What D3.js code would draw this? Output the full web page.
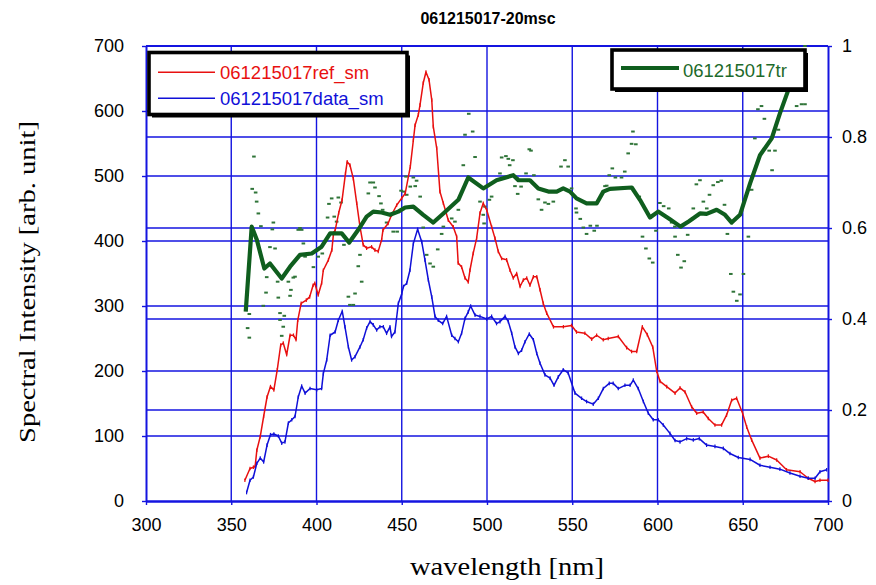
<!DOCTYPE html>
<html>
<head>
<meta charset="utf-8">
<script src="https://cdn.jsdelivr.net/npm/d3@7"></script>
<style>
  body { margin: 0; background: #fff; }
  text { font-family: Arial, "Liberation Sans", sans-serif; }
</style>
</head>
<body>
<svg id="chart" width="876" height="585"></svg>
<script>
// Reference spectrum (smoothed), left axis
const refNm  = [358,361,363,364,365,367,369,371,373,375,377,379,380.5,382.5,384.5,386.5,388,389,391,394,396,398,399,401,403,404,407,409,410,411,413,415,417,418,419.6,421.6,423.6,425.5,427.4,429.4,432.3,434.3,436.2,438.2,439,442,444,447,450,452,455,456.8,457.8,459.7,460.7,462.6,464.2,466,467.6,468.5,470.5,472.4,474.4,477.3,480.2,482.2,483.1,485.1,487.1,489,490,491.9,493.9,495.9,497.8,499.8,502.7,504.7,506.6,508.6,511.5,513.5,515.4,517.4,519.4,521.3,523.3,525.2,527.2,529.2,531.1,533,535,539,544.8,549.6,552.5,557.4,561.4,564.3,568.2,571.1,577,581.9,584.8,587.8,591.1,594,597.2,599.5,601.5,605.4,610.3,613.2,616.1,620,623,626.8,629.8,633.7,637.6,640.5,643.5,646.4,649.9,652.3,655.2,660.1,665,669.9,675.7,683.6,688.4,692.4,695.3,700];
const refVal = [32,50,52,53,78,99,130,160,176,171,202,240,243,225,255,255,248,278,304,309,314,332,335,317,335,355,371,386,412,417,443,463,504,522,517,496,458,422,394,389,391,386,384,402,417,427,440,455,466,473,514,555,578,594,609,643,660,648,617,576,543,476,458,432,422,407,366,360,343,337,355,381,404,443,458,448,422,404,384,373,371,355,343,350,330,340,343,332,345,345,325,304,289,268,268,270,260,258,249,255,248,250,253,236,230,230,268,256,237,200,184,176,166,174,168,145,135,137,127,117,117,132,155,158,135,114,94,66,69,63,48,45,35,30,32,32];

// Measured spectrum (smoothed), left axis
const dataNm  = [359,361,363,365,367,369,371,373,375,377.6,379.6,381.5,383.5,385.5,387.4,389.3,391.3,393.3,396.2,400.1,403,404,406,408,410.9,412.8,415.1,416.7,418.7,420.6,422.6,425.5,427.4,429.4,431.4,433.3,435.3,437.2,439.2,441.1,443.1,444,446,448,450,451,452.9,454.8,456.8,459.3,461.7,463.6,465.6,467.6,469.5,471.4,474,476.3,479.3,481.2,483.2,485.1,487.1,489,490.4,493,495.9,499.8,502.7,505.6,507.6,510.6,512.5,514.5,516.4,518.4,520.3,522.3,524.8,527.2,529.2,531.1,534,537,539.3,541.8,544.7,547.6,551.6,555.5,558.4,562.3,565.3,568.2,571.7,574,577,580.9,583.9,585.8,588.7,591.7,594.6,597.5,600.4,603.4,607.3,610.3,613.2,617.1,621,624.5,628.8,633.7,638.6,642.5,647.4,654.3,660.1,666,671.8,677.7,683.6,688.4,692.4,695.3,699.2];
const dataVal = [13,32,37,58,66,60,86,102,103,100,89,91,120,125,130,160,177,166,173,171,173,196,217,255,260,278,292,268,237,217,222,237,248,266,276,271,263,268,268,258,268,253,260,304,319,330,335,355,396,418,399,371,340,314,284,278,273,284,255,250,245,258,281,291,300,286,284,280,284,273,276,284,276,258,237,227,232,245,257,248,227,212,194,189,178,191,202,197,166,158,153,149,158,173,181,181,173,178,178,186,173,153,135,125,125,117,104,93,91,96,94,96,86,84,81,73,67,64,55,52,49,43,38,35,35,45,48];

// Transmission (smoothed), right axis
const trNm  = [358.5,362,365,369.4,372.7,379.6,384.5,390.3,397.2,403,408,414.8,419.2,424.5,429.4,433.3,438.2,443.1,448,452,456.8,462.6,468.5,474.4,483.2,489,497.8,505.6,515.4,518.4,525.2,530.1,536,540.9,544.7,548.7,552.5,558.4,564.3,568.2,572.1,584.9,589.7,595.6,600.4,607.3,613.5,618.5,624.9,628.8,634.7,639.6,643.5,648.4,654.3,660.1,667,671.8,676.7,682];
const trVal = [0.416,0.603,0.574,0.511,0.522,0.489,0.515,0.541,0.544,0.559,0.588,0.588,0.568,0.596,0.625,0.636,0.634,0.629,0.636,0.645,0.647,0.629,0.612,0.632,0.662,0.711,0.687,0.705,0.716,0.705,0.705,0.687,0.680,0.680,0.687,0.680,0.665,0.654,0.654,0.680,0.686,0.689,0.662,0.623,0.636,0.619,0.603,0.615,0.632,0.631,0.640,0.629,0.612,0.629,0.698,0.760,0.797,0.852,0.903,0.97];

// Transmission (raw points), right axis
const rawNm  = [359.6,360.6,360.6,362.3,363.3,364.3,364.9,365.9,367.4,368.8,370.4,370.8,372.7,374.1,374.7,375.7,377.2,377.6,378.6,378.6,379.6,380.5,381.1,383.5,384.5,385,386.4,387.4,389.3,390.3,391.3,392.3,393.3,398.2,401,403.4,406.5,407.3,408.9,410.4,411.8,412.8,414.4,416.1,418.7,419.6,421.6,422.6,424.5,425.5,426.5,430.4,431.4,433.3,434.3,436.7,437.8,438.8,441.1,445,447.3,449.6,450.9,452.5,452.9,455,456.8,457.9,458.7,460.8,462.6,464.6,466.6,468.5,471.1,473.4,474.4,479.3,481.2,483.2,486.1,487.1,489.3,491.6,493,495.9,497.8,498.3,498.8,501.4,502.7,507.6,508.6,511.1,512.5,513.3,515.2,516.4,517.8,518,520,522.9,524.8,525.8,527.5,530.1,532,534,536,538.9,543.4,545.7,547.6,549.6,552.2,552.5,554.7,556.5,558.4,560.6,562.9,564.5,569.2,570.2,571.7,573.5,575.3,578.9,580.8,582.8,584.8,585.6,587.3,589.3,591.2,593.2,595.2,597.2,599.1,601.4,603.6,606.6,608.3,610.2,610.3,611.9,613.8,615.7,617.5,617.7,621,622.8,624.9,626.9,628.9,630.5,632.7,635.4,637.4,639.3,641,643,644.5,646.5,648.4,650.4,653.3,655.2,657.1,658.9,661,662.7,665.5,667.2,668.9,670.9,681.6,684.5,686.5,686.5];
const rawVal = [0.380,0.359,0.411,0.686,0.757,0.678,0.658,0.632,0.604,0.429,0.458,0.492,0.558,0.597,0.612,0.555,0.482,0.447,0.413,0.398,0.363,0.383,0.407,0.482,0.451,0.464,0.491,0.493,0.596,0.600,0.596,0.566,0.537,0.514,0.537,0.544,0.623,0.653,0.665,0.625,0.614,0.667,0.656,0.563,0.449,0.431,0.431,0.456,0.516,0.541,0.482,0.676,0.700,0.700,0.689,0.670,0.654,0.640,0.612,0.592,0.592,0.682,0.680,0.713,0.673,0.691,0.711,0.692,0.704,0.669,0.601,0.541,0.522,0.515,0.553,0.587,0.603,0.621,0.614,0.640,0.738,0.805,0.851,0.812,0.756,0.658,0.629,0.610,0.647,0.662,0.669,0.720,0.755,0.758,0.752,0.738,0.749,0.692,0.709,0.675,0.691,0.720,0.773,0.770,0.716,0.663,0.640,0.656,0.653,0.658,0.735,0.749,0.735,0.687,0.643,0.634,0.620,0.601,0.587,0.605,0.594,0.605,0.692,0.693,0.716,0.731,0.711,0.711,0.724,0.764,0.785,0.812,0.784,0.669,0.581,0.555,0.533,0.524,0.594,0.655,0.648,0.643,0.612,0.603,0.581,0.541,0.513,0.527,0.612,0.585,0.643,0.696,0.705,0.658,0.643,0.673,0.694,0.701,0.704,0.651,0.587,0.499,0.460,0.440,0.454,0.499,0.581,0.684,0.797,0.861,0.868,0.840,0.770,0.727,0.770,0.816,0.868,0.872,0.872,1.0];

const xTicks = [300,350,400,450,500,550,600,650,700];
const yTicks = [0,100,200,300,400,500,600,700];
const yRightTicks = [0,0.2,0.4,0.6,0.8,1];

const chartTitle = "061215017-20msc";
const seriesNames = ["061215017ref_sm", "061215017data_sm", "061215017tr"];

const COL_GRID = "#1414e0", COL_RED = "#e81010", COL_BLUE = "#1010d8",
      COL_GREEN = "#0f5e1e", COL_DOT = "#2f7438";

const svg = d3.select("#chart");
const plot = { left: 146, right: 828, top: 46, bottom: 501 };

const x  = d3.scaleLinear().domain([300, 700]).range([plot.left, plot.right]);
const y  = d3.scaleLinear().domain([0, 700]).range([plot.bottom, plot.top]);
const yR = d3.scaleLinear().domain([0, 1]).range([plot.bottom, plot.top]);

// Grid: vertical lines at each x tick, horizontal lines at both axes' ticks
const grid = svg.append("g").attr("stroke", COL_GRID).attr("stroke-width", 1.4);
grid.selectAll("line.v").data(xTicks.slice(1, -1)).join("line")
  .attr("x1", d => x(d)).attr("x2", d => x(d))
  .attr("y1", plot.top).attr("y2", plot.bottom);
grid.selectAll("line.h").data(yTicks.slice(1)).join("line")
  .attr("x1", plot.left).attr("x2", plot.right)
  .attr("y1", d => y(d)).attr("y2", d => y(d));
grid.selectAll("line.hr").data(yRightTicks.slice(1, -1)).join("line")
  .attr("x1", plot.left).attr("x2", plot.right)
  .attr("y1", d => yR(d)).attr("y2", d => yR(d));

// Axes
function styleAxis(g, width) {
  g.select(".domain").attr("stroke", COL_GRID).attr("stroke-width", width);
  g.selectAll(".tick line").attr("stroke", COL_GRID).attr("stroke-width", 1.4);
  g.selectAll(".tick text").attr("fill", "#000").attr("font-size", 18)
    .attr("font-family", "Arial, 'Liberation Sans', sans-serif");
}
svg.append("g").attr("transform", `translate(0,${plot.bottom})`)
  .call(d3.axisBottom(x).tickValues(xTicks).tickSize(4).tickSizeOuter(0).tickPadding(13).tickFormat(d3.format("d")))
  .call(g => styleAxis(g, 2.6));
svg.append("g").attr("transform", `translate(${plot.left},0)`)
  .call(d3.axisLeft(y).tickValues(yTicks).tickSize(4).tickSizeOuter(0).tickPadding(18).tickFormat(d3.format("d")))
  .call(g => styleAxis(g, 2));
svg.append("g").attr("transform", `translate(${plot.right},0)`)
  .call(d3.axisRight(yR).tickValues(yRightTicks).tickSize(4).tickSizeOuter(0).tickPadding(10)
    .tickFormat(d => (d === 0 || d === 1) ? String(d) : d.toFixed(1)))
  .call(g => styleAxis(g, 2));
// top frame line
svg.append("line").attr("x1", plot.left).attr("x2", plot.right)
  .attr("y1", plot.top).attr("y2", plot.top)
  .attr("stroke", COL_GRID).attr("stroke-width", 2);

// Raw transmission points
const rawPts = rawNm.map((n, i) => [n, rawVal[i]]);
svg.append("g").attr("fill", COL_DOT).selectAll("rect").data(rawPts).join("rect")
  .attr("x", d => x(d[0]) - 1.8).attr("y", d => yR(d[1]) - 1)
  .attr("width", 3.6).attr("height", 2);

// Spectra with small point markers
function drawSeries(nm, vals, color) {
  const pts = nm.map((n, i) => [n, vals[i]]);
  svg.append("path").datum(pts)
    .attr("fill", "none").attr("stroke", color).attr("stroke-width", 1.5)
    .attr("stroke-linejoin", "round")
    .attr("d", d3.line().x(d => x(d[0])).y(d => y(d[1])));
  svg.append("g").attr("stroke", color).attr("stroke-width", 1.2)
    .selectAll("line").data(pts).join("line")
    .attr("x1", d => x(d[0])).attr("x2", d => x(d[0]))
    .attr("y1", d => y(d[1]) - 1.8).attr("y2", d => y(d[1]) + 1.8);
}
drawSeries(refNm, refVal, COL_RED);
drawSeries(dataNm, dataVal, COL_BLUE);

// Smoothed transmission
const trPts = trNm.map((n, i) => [n, trVal[i]]);
svg.append("path").datum(trPts)
  .attr("fill", "none").attr("stroke", COL_GREEN).attr("stroke-width", 4.2)
  .attr("stroke-linejoin", "round")
  .attr("d", d3.line().x(d => x(d[0])).y(d => yR(d[1])));

// Legend boxes with drop shadow
function legendBox(x0, y0, w, h) {
  svg.append("rect").attr("x", x0 + 3).attr("y", y0 + 3).attr("width", w).attr("height", h)
    .attr("fill", "#000");
  svg.append("rect").attr("x", x0).attr("y", y0).attr("width", w).attr("height", h)
    .attr("fill", "#fff").attr("stroke", "#000").attr("stroke-width", 3.6);
}
legendBox(149, 52.5, 258, 62);
svg.append("line").attr("x1", 158).attr("x2", 215).attr("y1", 72.3).attr("y2", 72.3)
  .attr("stroke", COL_RED).attr("stroke-width", 1.4);
svg.append("text").attr("x", 220).attr("y", 78.5).attr("font-size", 18.5)
  .attr("fill", COL_RED).text(seriesNames[0]);
svg.append("line").attr("x1", 158).attr("x2", 215).attr("y1", 98.3).attr("y2", 98.3)
  .attr("stroke", COL_BLUE).attr("stroke-width", 1.4);
svg.append("text").attr("x", 220).attr("y", 104.5).attr("font-size", 18.5)
  .attr("fill", COL_BLUE).text(seriesNames[1]);

legendBox(612, 50, 193, 39);
svg.append("line").attr("x1", 621).attr("x2", 679).attr("y1", 68).attr("y2", 68)
  .attr("stroke", COL_GREEN).attr("stroke-width", 4.2);
svg.append("text").attr("x", 683).attr("y", 76.7).attr("font-size", 18.5)
  .attr("fill", "#1d6a2a").text(seriesNames[2]);

// Title and axis labels
svg.append("text").attr("x", 488).attr("y", 24).attr("text-anchor", "middle")
  .attr("font-size", 16).attr("font-weight", "bold").text(chartTitle);
svg.append("text").attr("x", 507).attr("y", 575).attr("text-anchor", "middle")
  .style("font-family", "'Liberation Serif', 'Times New Roman', serif")
  .attr("font-size", 26).attr("textLength", 194).attr("lengthAdjust", "spacingAndGlyphs")
  .text("wavelength [nm]");
svg.append("text").attr("transform", "translate(35,282) rotate(-90)").attr("text-anchor", "middle")
  .style("font-family", "'Liberation Serif', 'Times New Roman', serif")
  .attr("font-size", 24).attr("textLength", 322).attr("lengthAdjust", "spacingAndGlyphs")
  .text("Spectral Intensity [arb. unit]");
</script>
</body>
</html>
